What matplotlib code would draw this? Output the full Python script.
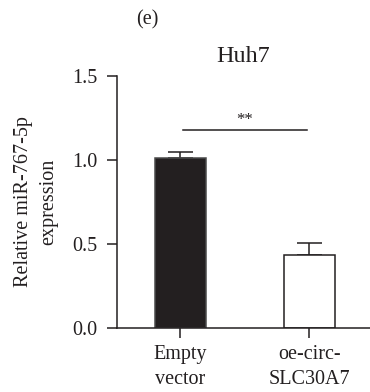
import matplotlib
matplotlib.use("Agg")
import matplotlib.pyplot as plt

categories = ["Empty\nvector", "oe-circ-\nSLC30A7"]
means = [1.01, 0.435]
errors = [0.04, 0.07]
bar_colors = ["#231f20", "#ffffff"]
yticks = [0.0, 0.5, 1.0, 1.5]
title = "Huh7"
ylabel = "Relative miR-767-5p\nexpression"
sig_text = "**"
sig_y = 1.18

plt.rcParams['font.family'] = ['Liberation Serif', 'DejaVu Serif']
plt.rcParams['font.size'] = 14.5
ink = "#231f20"

fig = plt.figure(figsize=(3.70, 3.92), dpi=100)
ax = fig.add_axes([117/370, 64/392, 253/370, 252/392])

x = list(range(len(categories)))
ax.bar(x, means, width=0.395, color=bar_colors, edgecolor=["#4a4a4a", ink],
       linewidth=1.1, zorder=2)
ax.errorbar(x, means, yerr=[[0]*len(errors), errors], fmt='none', ecolor=ink,
            elinewidth=1.1, capsize=9, capthick=1.1, zorder=1)

ax.set_xlim(-0.492, 1.469)
ax.set_ylim(0, 1.5)
ax.set_yticks(yticks)
ax.set_yticklabels([f"{v:.1f}" for v in yticks])
ax.set_xticks(x)
ax.set_xticklabels(categories, linespacing=1.45)

for s in ['top', 'right']:
    ax.spines[s].set_visible(False)
for s in ['left', 'bottom']:
    ax.spines[s].set_color(ink)
    ax.spines[s].set_linewidth(1.1)
ax.tick_params(axis='both', direction='out', length=7.2, width=1.1, color=ink,
               labelcolor=ink)
ax.tick_params(axis='y', pad=7)
ax.tick_params(axis='x', pad=5)

ax.set_ylabel(ylabel, color=ink, labelpad=10, linespacing=1.45)
ax.set_title(title, color=ink, pad=10)

ax.plot([0.02, 0.98], [sig_y, sig_y], color=ink, lw=1.1, clip_on=False)
ax.text(0.5, sig_y + 0.01, sig_text, ha='center', va='bottom', color=ink, fontsize=12)

fig.text(147/370, 1 - 20/392, "(e)", ha='center', va='center', color=ink)

fig.savefig("out.png", dpi=100)
